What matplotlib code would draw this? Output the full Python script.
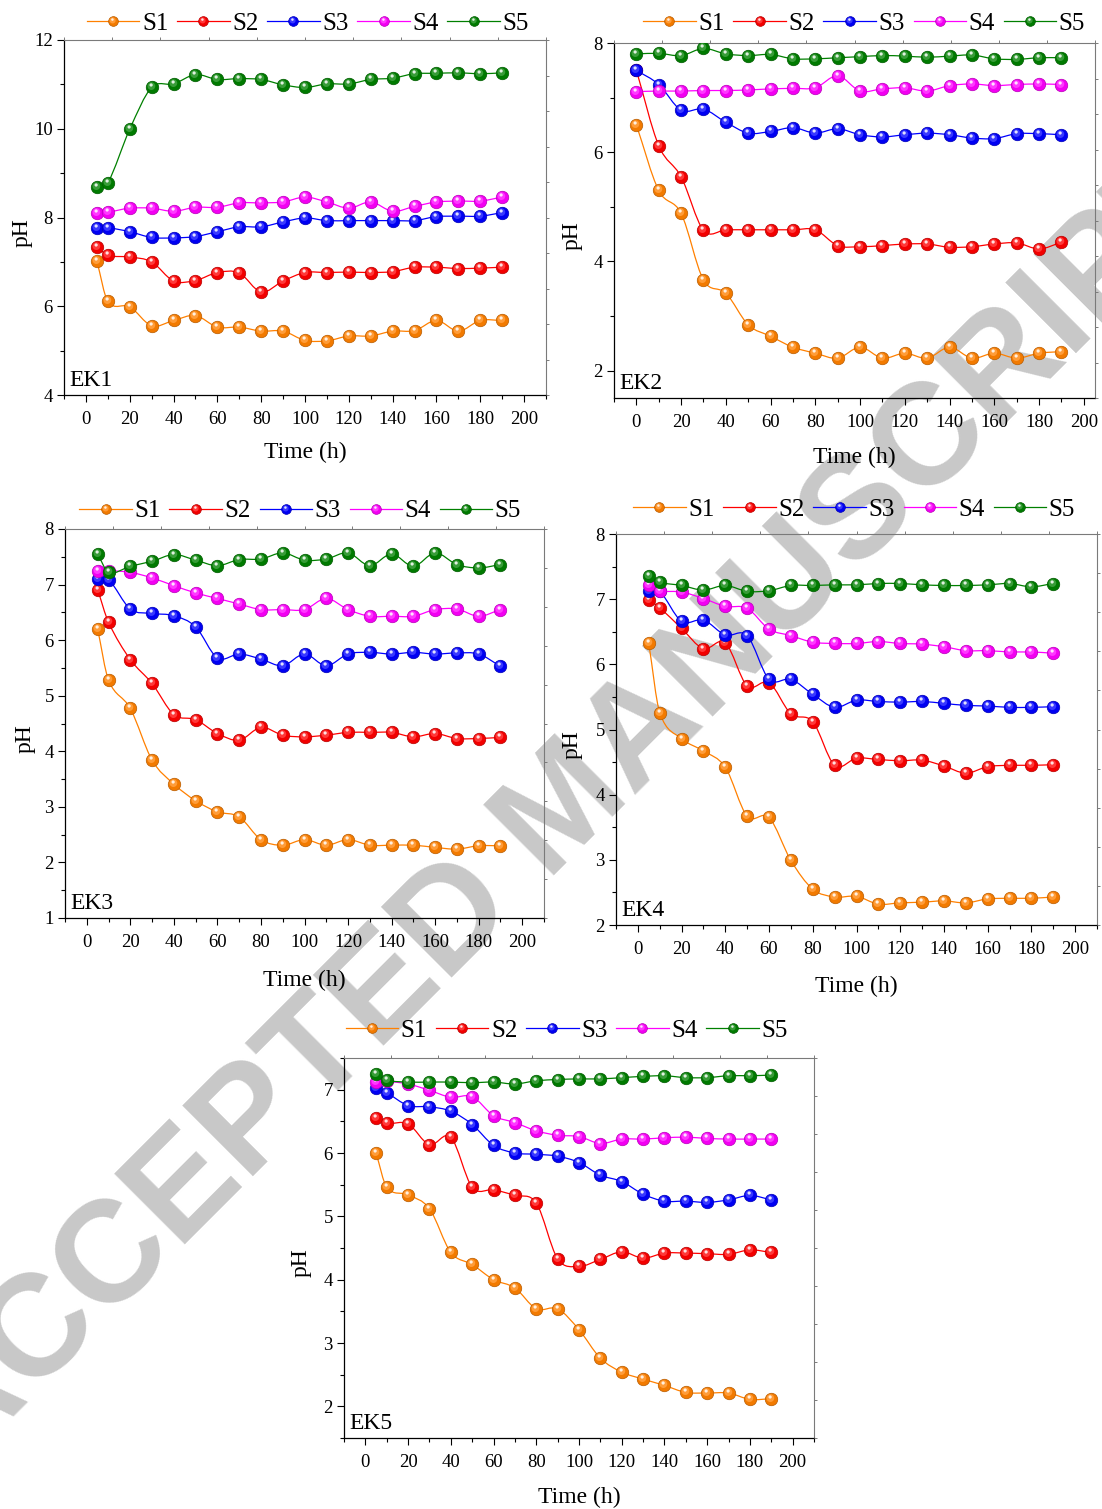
import numpy as np
import matplotlib
matplotlib.use("Agg")
import matplotlib.pyplot as plt
from matplotlib.path import Path
from matplotlib.patches import PathPatch
from matplotlib.lines import Line2D
from matplotlib.legend_handler import HandlerTuple
from matplotlib.ticker import MultipleLocator, NullFormatter
import matplotlib.colors as mcolors

plt.rcParams['font.family'] = ['Liberation Serif', 'DejaVu Serif']

# ---------------- data ----------------
series_names = ['S1', 'S2', 'S3', 'S4', 'S5']
series_colors = ['#FF8000', '#FF0000', '#0000FF', '#FF00FF', '#008000']
panel_names = ['EK1', 'EK2', 'EK3', 'EK4', 'EK5']

time_a = [5, 10, 20, 30, 40, 50, 60, 70, 80, 90, 100, 110, 120, 130, 140, 150, 160, 170, 180, 190]
time_b = [0, 10, 20, 30, 40, 50, 60, 70, 80, 90, 100, 110, 120, 130, 140, 150, 160, 170, 180, 190]

ek1_s1 = [7.02, 6.11, 5.99, 5.56, 5.68, 5.79, 5.53, 5.53, 5.44, 5.44, 5.23, 5.22, 5.33, 5.33, 5.44, 5.45, 5.68, 5.44, 5.68, 5.68]
ek1_s2 = [7.34, 7.15, 7.11, 7.00, 6.57, 6.58, 6.76, 6.75, 6.32, 6.57, 6.76, 6.76, 6.77, 6.76, 6.78, 6.88, 6.88, 6.85, 6.86, 6.88]
ek1_s3 = [7.77, 7.77, 7.68, 7.55, 7.54, 7.57, 7.68, 7.79, 7.79, 7.90, 7.99, 7.93, 7.93, 7.93, 7.93, 7.93, 8.02, 8.03, 8.03, 8.11]
ek1_s4 = [8.11, 8.12, 8.21, 8.21, 8.14, 8.23, 8.23, 8.33, 8.33, 8.35, 8.46, 8.35, 8.21, 8.35, 8.14, 8.25, 8.35, 8.37, 8.37, 8.46]
ek1_s5 = [8.68, 8.78, 9.99, 10.93, 11.01, 11.22, 11.11, 11.13, 11.11, 10.99, 10.93, 11.01, 11.01, 11.11, 11.14, 11.24, 11.25, 11.26, 11.24, 11.26]

ek2_s1 = [6.50, 5.30, 4.88, 3.66, 3.42, 2.84, 2.63, 2.43, 2.32, 2.23, 2.43, 2.23, 2.32, 2.23, 2.43, 2.23, 2.32, 2.23, 2.32, 2.35]
ek2_s2 = [7.50, 6.12, 5.55, 4.57, 4.58, 4.58, 4.58, 4.58, 4.58, 4.29, 4.27, 4.29, 4.32, 4.32, 4.26, 4.27, 4.32, 4.34, 4.23, 4.35]
ek2_s3 = [7.50, 7.24, 6.77, 6.79, 6.55, 6.35, 6.38, 6.45, 6.35, 6.43, 6.32, 6.28, 6.32, 6.35, 6.32, 6.26, 6.25, 6.34, 6.34, 6.32]
ek2_s4 = [7.11, 7.12, 7.12, 7.13, 7.13, 7.14, 7.16, 7.17, 7.18, 7.40, 7.12, 7.16, 7.18, 7.12, 7.22, 7.25, 7.22, 7.24, 7.25, 7.24]
ek2_s5 = [7.80, 7.81, 7.77, 7.90, 7.80, 7.77, 7.79, 7.71, 7.71, 7.73, 7.75, 7.77, 7.76, 7.74, 7.76, 7.78, 7.71, 7.70, 7.73, 7.73]

ek3_s1 = [6.20, 5.28, 4.77, 3.84, 3.41, 3.11, 2.91, 2.82, 2.41, 2.31, 2.41, 2.31, 2.41, 2.31, 2.31, 2.31, 2.27, 2.24, 2.30, 2.30]
ek3_s2 = [6.91, 6.32, 5.65, 5.22, 4.66, 4.57, 4.32, 4.20, 4.43, 4.29, 4.26, 4.29, 4.34, 4.34, 4.34, 4.26, 4.32, 4.23, 4.23, 4.25]
ek3_s3 = [7.10, 7.09, 6.56, 6.48, 6.44, 6.24, 5.68, 5.75, 5.66, 5.54, 5.75, 5.54, 5.75, 5.78, 5.75, 5.78, 5.75, 5.77, 5.75, 5.53]
ek3_s4 = [7.24, 7.25, 7.22, 7.12, 6.98, 6.85, 6.75, 6.65, 6.55, 6.55, 6.55, 6.75, 6.55, 6.43, 6.43, 6.43, 6.55, 6.56, 6.43, 6.55]
ek3_s5 = [7.55, 7.22, 7.33, 7.42, 7.54, 7.44, 7.34, 7.45, 7.46, 7.57, 7.44, 7.46, 7.57, 7.34, 7.55, 7.33, 7.57, 7.36, 7.30, 7.36]

ek4_s1 = [6.32, 5.26, 4.86, 4.67, 4.42, 3.67, 3.65, 2.99, 2.55, 2.43, 2.44, 2.32, 2.34, 2.35, 2.37, 2.34, 2.40, 2.41, 2.41, 2.43]
ek4_s2 = [6.99, 6.87, 6.55, 6.24, 6.33, 5.67, 5.72, 5.24, 5.12, 4.45, 4.56, 4.54, 4.52, 4.53, 4.44, 4.33, 4.43, 4.45, 4.45, 4.46]
ek4_s3 = [7.12, 7.12, 6.66, 6.68, 6.45, 6.44, 5.77, 5.77, 5.54, 5.34, 5.45, 5.43, 5.42, 5.43, 5.40, 5.37, 5.36, 5.34, 5.34, 5.35]
ek4_s4 = [7.22, 7.13, 7.11, 7.01, 6.89, 6.86, 6.54, 6.44, 6.34, 6.32, 6.32, 6.35, 6.32, 6.31, 6.27, 6.21, 6.21, 6.19, 6.19, 6.17]
ek4_s5 = [7.35, 7.26, 7.21, 7.14, 7.21, 7.12, 7.13, 7.21, 7.21, 7.22, 7.22, 7.24, 7.24, 7.22, 7.21, 7.21, 7.22, 7.24, 7.19, 7.24]

ek5_s1 = [6.00, 5.46, 5.34, 5.12, 4.43, 4.24, 4.00, 3.87, 3.54, 3.54, 3.21, 2.76, 2.54, 2.43, 2.33, 2.22, 2.21, 2.21, 2.11, 2.12]
ek5_s2 = [6.56, 6.47, 6.46, 6.13, 6.25, 5.46, 5.42, 5.33, 5.21, 4.33, 4.21, 4.32, 4.44, 4.34, 4.42, 4.42, 4.41, 4.40, 4.47, 4.43]
ek5_s3 = [7.02, 6.95, 6.75, 6.73, 6.66, 6.45, 6.12, 6.00, 5.98, 5.95, 5.85, 5.65, 5.55, 5.35, 5.24, 5.24, 5.22, 5.26, 5.33, 5.26]
ek5_s4 = [7.12, 7.13, 7.09, 6.99, 6.88, 6.89, 6.59, 6.48, 6.35, 6.28, 6.26, 6.15, 6.22, 6.22, 6.24, 6.25, 6.23, 6.22, 6.22, 6.22]
ek5_s5 = [7.25, 7.15, 7.12, 7.12, 7.12, 7.11, 7.12, 7.09, 7.14, 7.16, 7.17, 7.17, 7.19, 7.21, 7.22, 7.19, 7.19, 7.22, 7.22, 7.23]

panel_times = [time_a, time_b, time_a, time_a, time_a]
panel_series = [
    [ek1_s1, ek1_s2, ek1_s3, ek1_s4, ek1_s5],
    [ek2_s1, ek2_s2, ek2_s3, ek2_s4, ek2_s5],
    [ek3_s1, ek3_s2, ek3_s3, ek3_s4, ek3_s5],
    [ek4_s1, ek4_s2, ek4_s3, ek4_s4, ek4_s5],
    [ek5_s1, ek5_s2, ek5_s3, ek5_s4, ek5_s5],
]
panel_ylims = [(4, 12), (1.5, 8), (1, 8), (2, 8), (1.5, 7.5)]
panel_xlims = [(-10, 210), (-10, 205), (-10, 210), (-10, 210), (-10, 210)]
panel_ymajor = [2, 2, 1, 1, 1]
panel_yminor = [1, 1, 0.5, 0.5, 0.5]

# ---------------- layout (pixels) ----------------
W, H = 1102, 1509
boxes = [(64, 40, 546, 395), (614, 43, 1095, 398), (65, 529, 544, 918),
         (616, 534, 1097, 925), (344, 1058, 814, 1438)]
legend_anchor = [(0.506, 1.047), (0.52, 1.055), (0.491, 1.046), (0.495, 1.062), (0.474, 1.072)]
ylabel_dx = [-42, -42, -40, -44, -43]     # px from left spine to "pH" centre
xlabel_dy = [57, 59, 62, 61, 59]          # px from bottom spine to "Time (h)" centre

fig = plt.figure(figsize=(W / 100, H / 100), dpi=100)
fig.patch.set_facecolor('white')


def mix(c, f):
    r = np.array(mcolors.to_rgb(c))
    return tuple(r + (1 - r) * f)


def dark(c, f):
    r = np.array(mcolors.to_rgb(c))
    return tuple(r * f)


def hl_marker(cx, cy, r):
    circ = Path.circle((cx, cy), r)
    verts = np.concatenate([circ.vertices, [[1, 1], [-1, -1], [1, -1], [-1, 1]]])
    codes = np.concatenate([circ.codes, [Path.MOVETO] * 4])
    return Path(verts, codes)


HL_MID = hl_marker(-0.18, 0.22, 0.62)
HL_SPOT = hl_marker(-0.22, 0.40, 0.26)


def smooth_path(x, y):
    x = np.asarray(x, float)
    y = np.asarray(y, float)
    n = len(x)
    s = np.empty(n)
    s[1:-1] = (y[2:] - y[:-2]) / (x[2:] - x[:-2])
    s[0] = (y[1] - y[0]) / (x[1] - x[0])
    s[-1] = (y[-1] - y[-2]) / (x[-1] - x[-2])
    verts = [(x[0], y[0])]
    codes = [Path.MOVETO]
    for i in range(n - 1):
        h = x[i + 1] - x[i]
        verts += [(x[i] + h / 3, y[i] + s[i] * h / 3),
                  (x[i + 1] - h / 3, y[i + 1] - s[i + 1] * h / 3),
                  (x[i + 1], y[i + 1])]
        codes += [Path.CURVE4] * 3
    return Path(verts, codes)


MS = 9.0
LEG_MS = 7.0

for k in range(5):
    l, t, r, b = boxes[k]
    wpx, hpx = r - l, b - t
    ax = fig.add_axes([l / W, 1 - b / H, wpx / W, hpx / H])
    ax.patch.set_alpha(0)
    x = panel_times[k]
    handles = []
    for j in range(5):
        c = series_colors[j]
        y = panel_series[k][j]
        ax.add_patch(PathPatch(smooth_path(x, y), facecolor='none', edgecolor=c,
                               lw=0.9, transform=ax.transData, zorder=2 + j))
        ax.plot(x, y, ls='none', marker='o', ms=MS, mfc=dark(c, 0.95), mec=dark(c, 0.72),
                mew=0.5, zorder=2.1 + j)
        ax.plot(x, y, ls='none', marker=HL_MID, ms=MS, mfc=mix(c, 0.22), mec='none',
                zorder=2.2 + j)
        ax.plot(x, y, ls='none', marker=HL_SPOT, ms=MS, mfc=mix(c, 0.88), mec='none',
                zorder=2.3 + j)
        h1 = Line2D([], [], color=c, lw=0.9, marker='o', ms=LEG_MS, mfc=dark(c, 0.95),
                    mec=dark(c, 0.72), mew=0.5)
        h2 = Line2D([], [], ls='none', marker=HL_MID, ms=LEG_MS, mfc=mix(c, 0.22), mec='none')
        h3 = Line2D([], [], ls='none', marker=HL_SPOT, ms=LEG_MS, mfc=mix(c, 0.88), mec='none')
        handles.append((h1, h2, h3))

    ax.set_xlim(*panel_xlims[k])
    ax.set_ylim(*panel_ylims[k])
    ax.xaxis.set_major_locator(MultipleLocator(20))
    ax.xaxis.set_minor_locator(MultipleLocator(10))
    ax.yaxis.set_major_locator(MultipleLocator(panel_ymajor[k]))
    ax.yaxis.set_minor_locator(MultipleLocator(panel_yminor[k]))
    ax.tick_params(which='major', direction='out', length=5, width=0.8, labelsize=13.5,
                   top=False, right=False)
    ax.tick_params(which='minor', direction='out', length=3, width=0.8, top=False, right=False)
    ax.tick_params(axis='x', which='major', pad=6.5)
    ax.tick_params(axis='y', which='major', pad=3)
    for sp in ['top', 'right']:
        ax.spines[sp].set_color('#7a7a7a')
        ax.spines[sp].set_linewidth(0.8)
    for sp in ['left', 'bottom']:
        ax.spines[sp].set_linewidth(0.9)

    ax.set_xlabel('Time (h)', fontsize=17)
    ax.set_ylabel('pH', fontsize=17)
    ax.xaxis.set_label_coords(0.5, -xlabel_dy[k] / hpx)
    ax.xaxis.label.set_va('center')
    ax.yaxis.set_label_coords(ylabel_dx[k] / wpx, 0.5 - 15 / hpx)
    ax.yaxis.label.set_va('center')
    ax.annotate(panel_names[k], xy=(0, 0), xycoords='axes fraction', xytext=(4, 3),
                textcoords='offset points', ha='left', va='bottom', fontsize=17)

    # secondary (unlabelled) axis ticks on top and right, as in the original
    axr = ax.twinx()
    axr.set_ylim(0, 10)
    axr.yaxis.set_major_locator(MultipleLocator(1))
    axr.yaxis.set_major_formatter(NullFormatter())
    axr.tick_params(axis='y', direction='out', length=2, width=0.7, color='#7a7a7a')
    axt = ax.twiny()
    axt.set_xlim(0, 10)
    axt.xaxis.set_major_locator(MultipleLocator(1))
    axt.xaxis.set_major_formatter(NullFormatter())
    axt.tick_params(axis='x', direction='out', length=2, width=0.7, color='#7a7a7a')
    for tw in (axr, axt):
        tw.patch.set_alpha(0)
        for sp in tw.spines.values():
            sp.set_visible(False)

    ax.legend(handles, series_names, handler_map={tuple: HandlerTuple(ndivide=1, pad=0)},
              ncol=5, loc='center', bbox_to_anchor=legend_anchor[k], frameon=False,
              fontsize=18, handlelength=2.1, handletextpad=0.1, columnspacing=0.35,
              borderpad=0, borderaxespad=0)

fig.text(566 / W, 1 - 810 / H, 'ACCEPTED MANUSCRIPT', rotation=45, ha='center', va='center',
         fontsize=104, fontweight='bold', family=['Liberation Sans', 'DejaVu Sans'],
         color='#c8c8c8', zorder=-10)

fig.savefig('out.png', dpi=100)
